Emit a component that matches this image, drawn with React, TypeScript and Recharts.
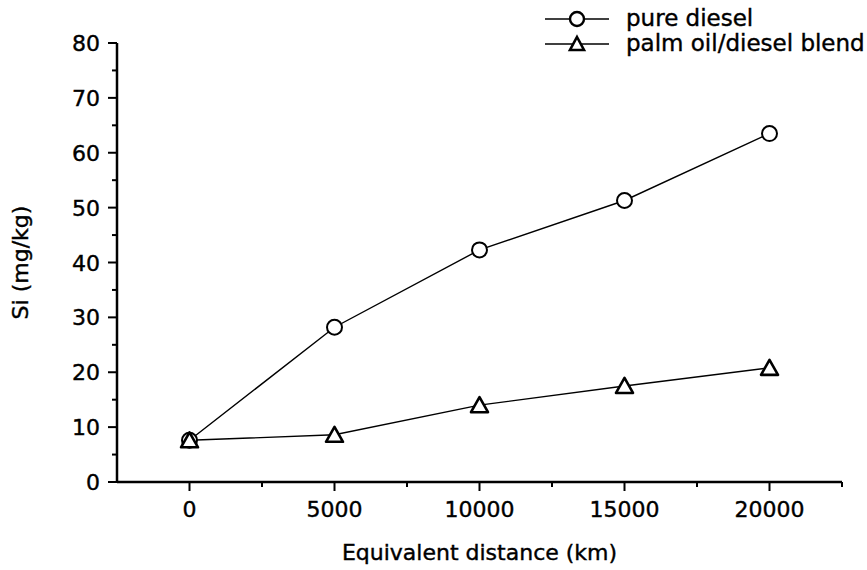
import { LineChart, Line, XAxis, YAxis } from "recharts";

const distances = [0, 5000, 10000, 15000, 20000];
const pureDiesel = [7.6, 28.2, 42.3, 51.3, 63.5];
const palmBlend = [7.6, 8.6, 14.0, 17.5, 20.8];

const xTicks = [0, 2500, 5000, 7500, 10000, 12500, 15000, 17500, 20000, 22500];
const yTicks = [0, 5, 10, 15, 20, 25, 30, 35, 40, 45, 50, 55, 60, 65, 70, 75, 80];

const data = distances.map((d, i) => ({
  d,
  pure: pureDiesel[i],
  blend: palmBlend[i],
}));

const FONT = "'DejaVu Sans', Arial, sans-serif";
const textBold = { stroke: "#000", strokeWidth: 0.4 };

const YTick = (props: any) => {
  const { x, y, payload } = props;
  const major = payload.value % 10 === 0;
  return (
    <g>
      <line x1={x} x2={x - (major ? 9 : 5)} y1={y} y2={y} stroke="#000" strokeWidth={2} />
      {major && (
        <text x={x - 17} y={y} dy={8} textAnchor="end" fontSize={22} fontFamily={FONT} fill="#000" {...textBold}>
          {payload.value}
        </text>
      )}
    </g>
  );
};

const XTick = (props: any) => {
  const { x, y, payload } = props;
  const major = payload.value % 5000 === 0;
  return (
    <g>
      <line x1={x} x2={x} y1={y} y2={y + (major ? 9 : 5)} stroke="#000" strokeWidth={2} />
      {major && (
        <text x={x} y={y + 35} textAnchor="middle" fontSize={22} fontFamily={FONT} fill="#000" {...textBold}>
          {payload.value}
        </text>
      )}
    </g>
  );
};

const CircleDot = (props: any) => {
  const { cx, cy } = props;
  if (cx == null || cy == null) return null;
  return <circle cx={cx} cy={cy} r={7.5} fill="#fff" stroke="#000" strokeWidth={2} />;
};

const TriangleDot = (props: any) => {
  const { cx, cy } = props;
  if (cx == null || cy == null) return null;
  const h = 14;
  const w = 17;
  return (
    <path
      d={`M${cx},${cy - h / 2 - 1} L${cx + w / 2},${cy + h / 2} L${cx - w / 2},${cy + h / 2} Z`}
      fill="#fff"
      stroke="#000"
      strokeWidth={2.6}
      strokeLinejoin="round"
    />
  );
};

const legendItems = [
  { name: "pure diesel", marker: "circle" },
  { name: "palm oil/diesel blend", marker: "triangle" },
];

const LegendBox = () => (
  <svg width={330} height={60} style={{ position: "absolute", left: 545, top: 0 }}>
    {legendItems.map((item, i) => {
      const cy = 19 + i * 25;
      return (
        <g key={item.name}>
          <line x1={0} x2={64} y1={cy} y2={cy} stroke="#000" strokeWidth={1.5} />
          {item.marker === "circle" ? (
            <circle cx={32} cy={cy} r={7} fill="#fff" stroke="#000" strokeWidth={2.4} />
          ) : (
            <path
              d={`M32,${cy - 7} L39,${cy + 6} L25,${cy + 6} Z`}
              fill="#fff"
              stroke="#000"
              strokeWidth={2.6}
            />
          )}
          <text x={81} y={cy + 7} fontSize={23} fontFamily={FONT} fill="#000" {...textBold}>
            {item.name}
          </text>
        </g>
      );
    })}
  </svg>
);

export default function App() {
  return (
    <div style={{ position: "absolute", left: 0, top: 0, width: 867, height: 570, background: "#fff" }}>
      <LineChart
        width={867}
        height={570}
        data={data}
        margin={{ top: 43, right: 25, bottom: 0, left: 0 }}
      >
        <XAxis
          dataKey="d"
          type="number"
          domain={[-2500, 22500]}
          ticks={xTicks}
          interval={0}
          tick={<XTick />}
          tickLine={false}
          tickSize={0}
          tickMargin={0}
          axisLine={{ stroke: "#000", strokeWidth: 2.5 }}
          height={88}
          label={{
            value: "Equivalent distance (km)",
            position: "insideBottom",
            offset: 10,
            fontSize: 22,
            fontFamily: FONT,
            fill: "#000",
            stroke: "#000",
            strokeWidth: 0.4,
          }}
        />
        <YAxis
          type="number"
          domain={[0, 80]}
          ticks={yTicks}
          interval={0}
          tick={<YTick />}
          tickLine={false}
          tickSize={0}
          tickMargin={0}
          axisLine={{ stroke: "#000", strokeWidth: 2.5 }}
          width={117}
          label={{
            value: "Si (mg/kg)",
            angle: -90,
            position: "insideLeft",
            offset: 20,
            style: { textAnchor: "middle" },
            fontSize: 22,
            fontFamily: FONT,
            fill: "#000",
            stroke: "#000",
            strokeWidth: 0.4,
          }}
        />
        <Line
          dataKey="pure"
          name="pure diesel"
          stroke="#000"
          strokeWidth={1.4}
          dot={<CircleDot />}
          activeDot={false}
          isAnimationActive={false}
        />
        <Line
          dataKey="blend"
          name="palm oil/diesel blend"
          stroke="#000"
          strokeWidth={1.4}
          dot={<TriangleDot />}
          activeDot={false}
          isAnimationActive={false}
        />
      </LineChart>
      <LegendBox />
    </div>
  );
}
